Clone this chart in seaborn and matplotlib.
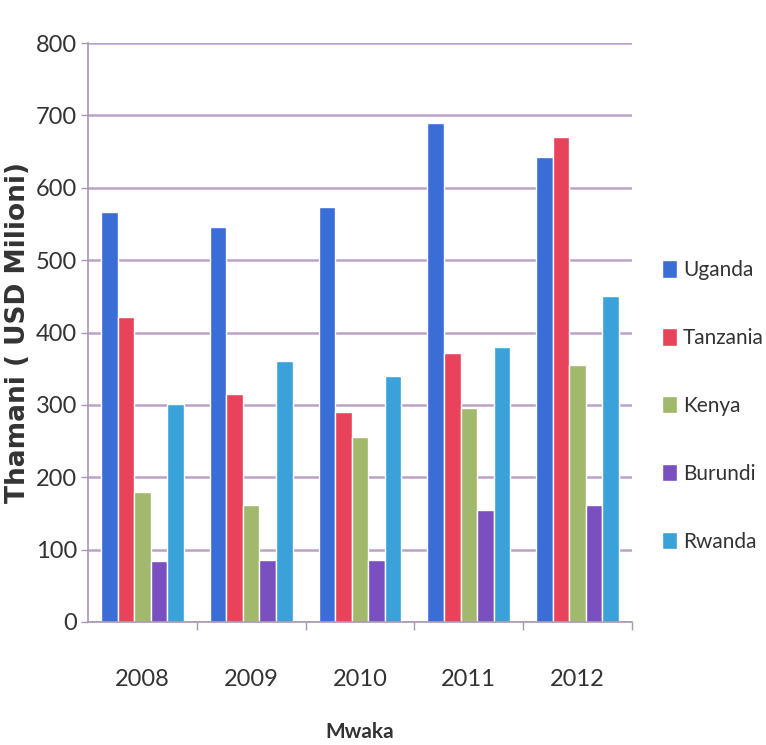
import matplotlib
matplotlib.use("Agg")
import matplotlib.pyplot as plt
import seaborn as sns
import pandas as pd

years = ["2008", "2009", "2010", "2011", "2012"]
countries = ["Uganda", "Tanzania", "Kenya", "Burundi", "Rwanda"]
uganda = [567, 546, 574, 690, 642]
tanzania = [421, 315, 290, 372, 670]
kenya = [180, 161, 255, 295, 355]
burundi = [84, 85, 86, 155, 161]
rwanda = [301, 360, 340, 380, 450]
colors = ["#3a6dd6", "#e8435a", "#a2b86c", "#7a50c0", "#3aa2d8"]

values = {"Uganda": uganda, "Tanzania": tanzania, "Kenya": kenya,
          "Burundi": burundi, "Rwanda": rwanda}
rows = []
for c in countries:
    for y, v in zip(years, values[c]):
        rows.append({"Mwaka": y, "Nchi": c, "Thamani": v})
df = pd.DataFrame(rows)

sns.set_theme(style="white")
plt.rcParams["font.family"] = ["Lato", "DejaVu Sans"]

fig = plt.figure(figsize=(7.66, 7.45), dpi=100)
ax = fig.add_axes([88/766, 1 - 622/745, (632-88)/766, (622-43)/745])

sns.barplot(data=df, x="Mwaka", y="Thamani", hue="Nchi", hue_order=countries,
            order=years, palette=colors, width=0.76, gap=0, saturation=1,
            ax=ax, legend=True)

ax.set_ylim(0, 800)
ax.set_xlim(-0.5, 4.5)
ax.set_yticks(range(0, 801, 100))
ax.yaxis.grid(True, color="#b9a3c6", linewidth=1.8)
ax.set_axisbelow(True)
for s in ["top", "right"]:
    ax.spines[s].set_visible(False)
ax.spines["left"].set_color("#a898b0")
ax.spines["bottom"].set_color("#a898b0")
ax.spines["left"].set_linewidth(1.2)
ax.spines["bottom"].set_linewidth(1.2)

ax.tick_params(axis="y", labelsize=17, colors="#333333", length=5, width=1,
               direction="out", left=True, pad=3)
ax.tick_params(axis="y", color="#a898b0")
ax.set_xticks(range(5))
ax.set_xticklabels(years)
ax.set_xticks([0.5, 1.5, 2.5, 3.5, 4.5], minor=True)
ax.tick_params(axis="x", which="major", length=0, labelsize=17,
               labelcolor="#333333", pad=34)
ax.tick_params(axis="x", which="minor", length=6, width=1, color="#a898b0",
               bottom=True)

ax.set_ylabel("Thamani ( USD Milioni)", fontsize=19, fontweight="bold",
              family=["DejaVu Sans"], color="#333333", labelpad=3)
ax.set_xlabel("Mwaka", fontsize=15, fontweight="bold", color="#333333",
              labelpad=23)

leg = ax.legend(loc="center left", bbox_to_anchor=(1.04, 0.373), frameon=False,
                fontsize=15, labelspacing=2.3, handlelength=0.7,
                handleheight=0.9, handletextpad=0.3, borderaxespad=0)
for t in leg.get_texts():
    t.set_color("#333333")

fig.savefig("out.png", dpi=100)
